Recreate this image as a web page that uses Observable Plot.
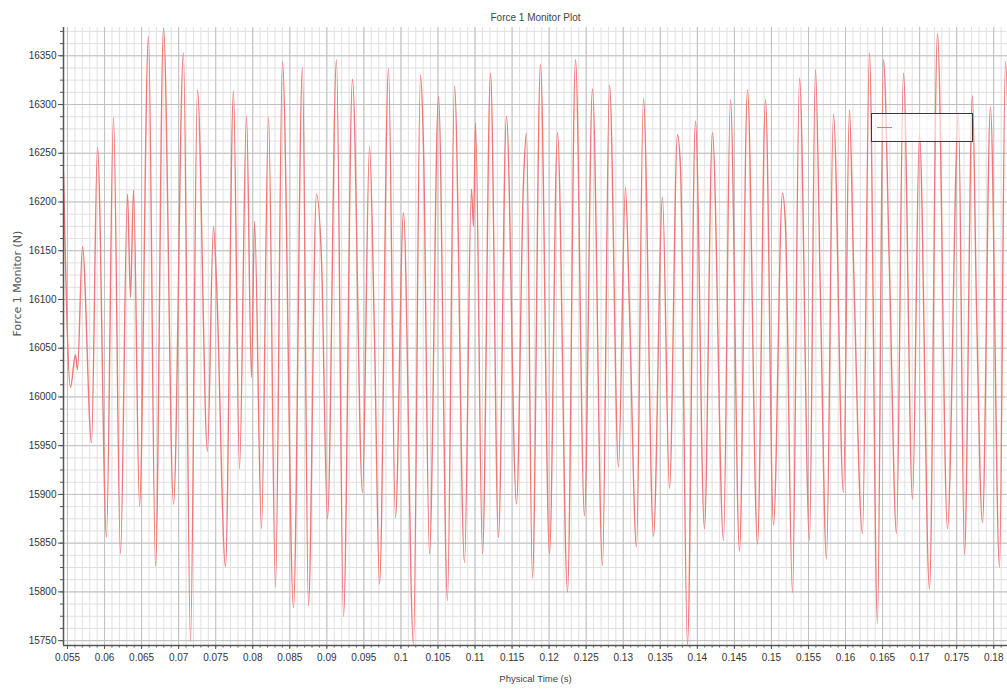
<!DOCTYPE html>
<html><head><meta charset="utf-8">
<script src="https://cdn.jsdelivr.net/npm/d3@7"></script>
<script src="https://cdn.jsdelivr.net/npm/@observablehq/plot@0.6"></script>
<style>
body{margin:0;background:#fff;}
#wrap{position:relative;width:1007px;height:694px;overflow:hidden;}
#legend{position:absolute;left:871px;top:113px;width:100px;height:27px;border:1.5px solid #3a3a3a;background:rgba(255,255,255,0.6);}
#legend .sw{position:absolute;left:5px;top:13px;width:15px;height:0;border-top:1.5px solid #f07474;}
</style></head><body><div id="wrap"></div>
<script>
// Physical time (s) at each turning point of the trace
const time = [
0.05446,0.05540,0.05608,0.05635,0.05702,0.05824,0.05905,0.06026,0.06121,0.06215,
0.06310,0.06350,0.06391,0.06472,0.06593,0.06688,0.06796,0.06931,0.07065,0.07160,
0.07254,0.07389,0.07470,0.07511,0.07632,0.07740,0.07821,0.07916,0.07983,0.08024,
0.08118,0.08213,0.08307,0.08401,0.08550,0.08671,0.08752,0.08860,0.08928,0.09009,
0.09130,0.09225,0.09346,0.09481,0.09576,0.09643,0.09711,0.09832,0.09926,0.10034,
0.10169,0.10264,0.10304,0.10385,0.10507,0.10628,0.10723,0.10858,0.10952,0.10979,
0.11006,0.11101,0.11209,0.11316,0.11424,0.11559,0.11654,0.11694,0.11775,0.11883,
0.12005,0.12113,0.12248,0.12356,0.12477,0.12585,0.12720,0.12815,0.12936,0.13030,
0.13084,0.13179,0.13273,0.13408,0.13530,0.13624,0.13732,0.13773,0.13867,0.13975,
0.14096,0.14204,0.14353,0.14447,0.14569,0.14677,0.14812,0.14920,0.15028,0.15149,
0.15190,0.15284,0.15379,0.15514,0.15594,0.15662,0.15743,0.15837,0.15972,0.16053,
0.16107,0.16229,0.16323,0.16431,0.16512,0.16593,0.16688,0.16782,0.16904,0.16998,
0.17133,0.17241,0.17376,0.17524,0.17605,0.17713,0.17767,0.17848,0.17956,0.18078,
0.18158,0.18226
];
// Force 1 Monitor (N) at those times
const force = [
16230,16010,16043,16028,16154,15953,16256,15856,16287,15839,
16208,16102,16212,15888,16370,15826,16378,15890,16353,15749,
16315,15944,16175,16117,15826,16314,15926,16288,16020,16180,
15865,16287,15805,16344,15784,16338,15786,16208,16140,15875,
16346,15775,16326,15902,16257,16062,15808,16337,15876,16189,
15746,16330,16258,15839,16308,15791,16319,15830,16213,16175,
16281,15839,16332,15856,16288,15890,16221,16271,15814,16341,
15839,16271,15800,16346,15878,16316,15827,16320,15928,16215,
16090,15846,16306,15857,16205,15906,16269,16235,15746,16283,
15865,16271,15853,16305,15842,16315,15849,16305,15869,16209,
16175,15799,16327,15853,16336,16100,15834,16290,15902,16295,
16140,15860,16353,15768,16346,16130,15860,16332,15895,16269,
15803,16373,15865,16291,15838,16309,16095,15871,16297,15825,
16344,16150
];
const xTicks = [0.055,0.06,0.065,0.07,0.075,0.08,0.085,0.09,0.095,0.1,0.105,0.11,0.115,0.12,0.125,0.13,0.135,0.14,0.145,0.15,0.155,0.16,0.165,0.17,0.175,0.18];
const yTicks = [15750,15800,15850,15900,15950,16000,16050,16100,16150,16200,16250,16300,16350];
const title = "Force 1 Monitor Plot";
const xLabel = "Physical Time (s)";
const yLabel = "Force 1 Monitor (N)";

const xDomain = [0.05446, 0.18186];
const yDomain = [15745, 16379];

const data = time.map((t, i) => ({t, f: force[i]}));
const xMinor = d3.range(55, 183).map(v => v / 1000).filter(v => v >= xDomain[0] && v <= xDomain[1]);
const yMinor = d3.range(0, 60).map(i => 15750 + i * 12.5).filter(v => v <= yDomain[1]);

const chart = Plot.plot({
  width: 1007, height: 694,
  marginTop: 27, marginBottom: 49, marginLeft: 63, marginRight: 0,
  x: {domain: xDomain},
  y: {domain: yDomain},
  style: {fontFamily: "'Liberation Sans', Arial, sans-serif", fontSize: "10px", color: "#333", background: "#fff"},
  marks: [
    Plot.ruleX(xMinor, {stroke: "#e0e0e0", strokeWidth: 1}),
    Plot.ruleY(yMinor, {stroke: "#e0e0e0", strokeWidth: 1}),
    Plot.ruleX(xTicks, {stroke: "#c0c0c0", strokeWidth: 1}),
    Plot.ruleY(yTicks, {stroke: "#c0c0c0", strokeWidth: 1}),
    Plot.line(data, {x: "t", y: "f", curve: "monotone-x", stroke: "#f07878", strokeWidth: 1.4, clip: true}),
    Plot.axisX(xMinor, {tickSize: 2.5, fill: "none", label: null, stroke: "#555"}),
    Plot.axisY(yMinor, {tickSize: 3, fill: "none", label: null, stroke: "#555"}),
    Plot.axisX(xTicks, {tickSize: 4, tickPadding: 4, label: null, stroke: "#555", fill: "#333",
      tickFormat: d => String(+d.toFixed(3))}),
    Plot.axisY(yTicks, {tickSize: 5, tickPadding: 2, label: null, stroke: "#555", fill: "#333",
      tickFormat: d => String(d)}),
    Plot.ruleX([xDomain[0]], {stroke: "#555", strokeWidth: 1.5}),
    Plot.ruleY([yDomain[0]], {stroke: "#555", strokeWidth: 1.5}),
    Plot.text([title], {text: d => d, frameAnchor: "top", dy: -14, fontSize: 10, fill: "#444"}),
    Plot.text([xLabel], {text: d => d, frameAnchor: "bottom", dy: 36, fontSize: 9.5, fill: "#444"}),
    Plot.text([yLabel], {text: d => d, frameAnchor: "left", dx: -46, rotate: -90, fontSize: 11,
      fontFamily: "'DejaVu Sans', sans-serif", fill: "#555"})
  ]
});
const wrap = document.getElementById("wrap");
wrap.appendChild(chart);
const legend = document.createElement("div");
legend.id = "legend";
legend.innerHTML = '<div class="sw"></div>';
wrap.appendChild(legend);
</script>
</body></html>
